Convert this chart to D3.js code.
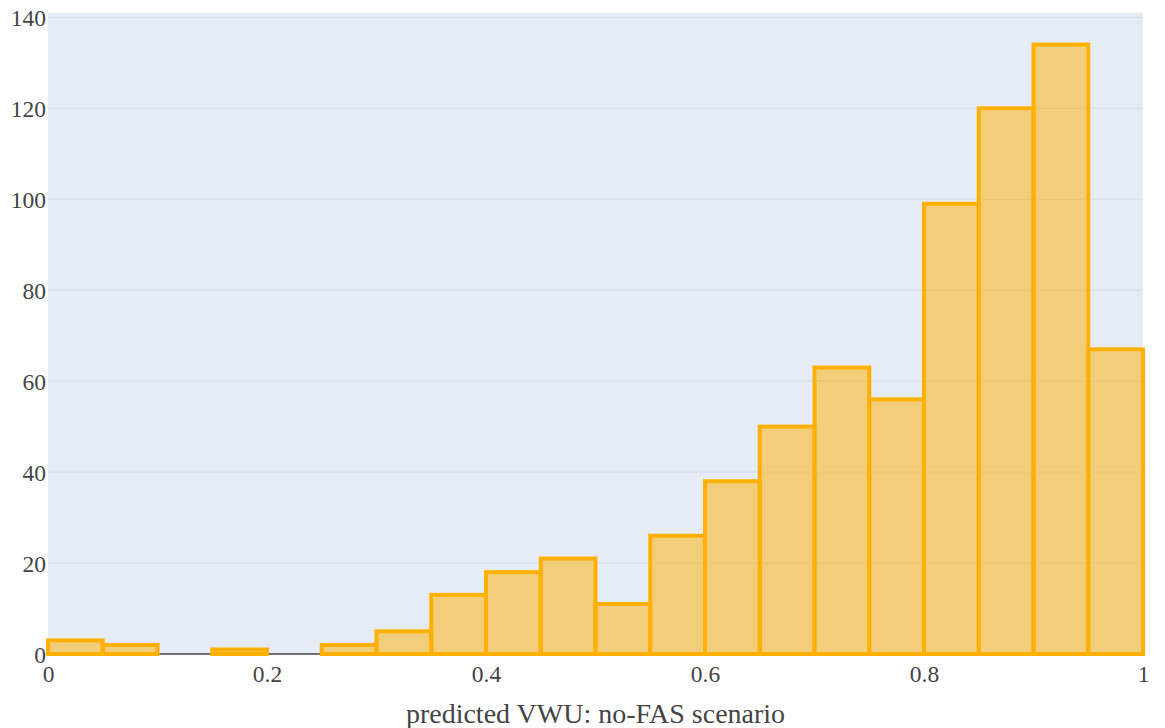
<!DOCTYPE html>
<html>
<head>
<meta charset="utf-8">
<script src="https://cdn.jsdelivr.net/npm/d3@7"></script>
<style>
  html, body { margin: 0; padding: 0; background: #fff; }
  svg { display: block; }
  svg text { font-family: 'Liberation Serif', 'Times New Roman', serif; }
</style>
</head>
<body>
<svg id="chart" width="1165" height="728"></svg>
<script>
const binStarts = [0, 0.05, 0.1, 0.15, 0.2, 0.25, 0.3, 0.35, 0.4, 0.45, 0.5, 0.55, 0.6, 0.65, 0.7, 0.75, 0.8, 0.85, 0.9, 0.95];
const counts = [3, 2, 0, 1, 0, 2, 5, 13, 18, 21, 11, 26, 38, 50, 63, 56, 99, 120, 134, 67];
const binWidth = 0.05;
const xTicks = [0, 0.2, 0.4, 0.6, 0.8, 1];
const yTicks = [0, 20, 40, 60, 80, 100, 120, 140];
const xTitle = "predicted VWU: no-FAS scenario";

(function () {
const svg = d3.select("#chart");
const mLeft = 48, mRight = 1143, mTop = 13, mBottom = 654;
const x = d3.scaleLinear().domain([0, 1]).range([mLeft, mRight]);
const y = d3.scaleLinear().domain([0, 140.95]).range([mBottom, mTop]);
const font = "'Liberation Serif', 'Times New Roman', serif";

svg.append("rect").attr("x", mLeft).attr("y", mTop)
  .attr("width", mRight - mLeft).attr("height", mBottom - mTop)
  .attr("fill", "#E5ECF6");

// grid
svg.append("g").selectAll("line").data(yTicks.filter(d => d > 0)).join("line")
  .attr("x1", mLeft).attr("x2", mRight)
  .attr("y1", d => y(d)).attr("y2", d => y(d))
  .attr("stroke", "#d3dbe7").attr("stroke-width", 1);

// zero line
svg.append("line").attr("x1", mLeft).attr("x2", mRight)
  .attr("y1", y(0)).attr("y2", y(0))
  .attr("stroke", "#444").attr("stroke-width", 1.5);

// bars
const data = binStarts.map((s, i) => ({ s, c: counts[i] })).filter(d => d.c > 0);
svg.append("g").selectAll("rect").data(data).join("rect")
  .attr("x", d => x(d.s))
  .attr("y", d => y(d.c))
  .attr("width", d => x(d.s + binWidth) - x(d.s))
  .attr("height", d => y(0) - y(d.c))
  .attr("fill", "rgba(255,176,0,0.5)")
  .attr("stroke", "#FFB000")
  .attr("stroke-width", 4);

// axes labels
const xAxis = d3.axisBottom(x).tickValues(xTicks).tickSize(0).tickFormat(d3.format("~g"));
const gx = svg.append("g").attr("transform", `translate(0,${mBottom})`).call(xAxis)
  .attr("font-family", font).attr("font-size", 23.5);
gx.select(".domain").remove();
gx.selectAll("text").attr("dy", 0).attr("y", 28)
  .style("font-family", font).style("font-size", "23.5px").attr("fill", "#444");

const yAxis = d3.axisLeft(y).tickValues(yTicks).tickSize(0);
const gy = svg.append("g").attr("transform", `translate(${mLeft},0)`).call(yAxis)
  .attr("font-family", font).attr("font-size", 23.5);
gy.select(".domain").remove();
gy.selectAll("text").attr("x", -2).attr("dy", "0.34em")
  .style("font-family", font).style("font-size", "23.5px").attr("fill", "#444");

svg.append("text").attr("x", (mLeft + mRight) / 2).attr("y", 723)
  .attr("text-anchor", "middle")
  .style("font-family", font).style("font-size", "28px").attr("fill", "#444")
  .text(xTitle);
})();
</script>
</body>
</html>
